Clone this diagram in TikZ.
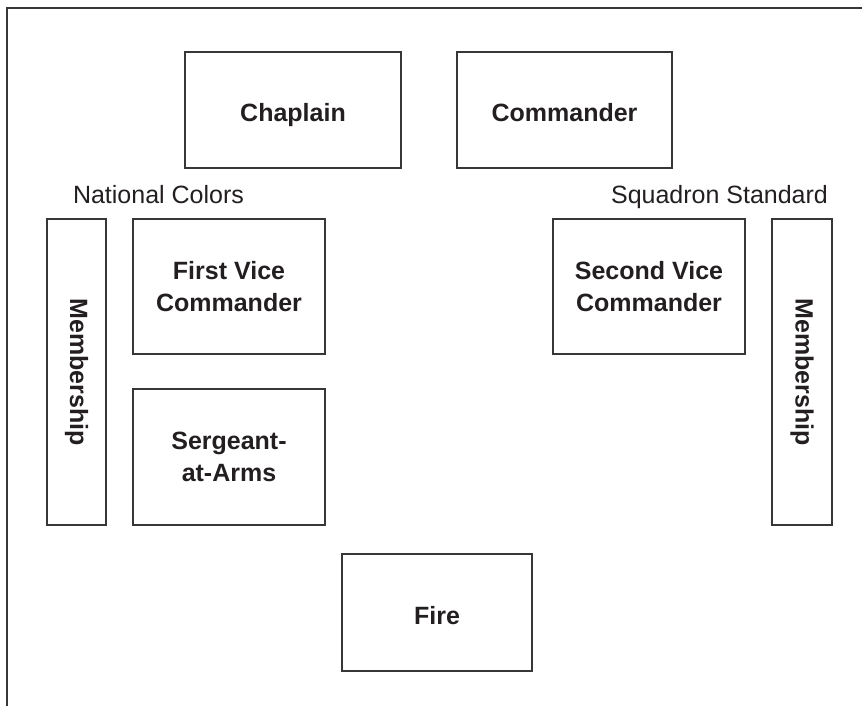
\documentclass[tikz,border=0pt]{standalone}
\usepackage{fontspec}
\setmainfont{Liberation Sans}
\usetikzlibrary{positioning}
\definecolor{ink}{RGB}{35,31,32}
\definecolor{rule}{RGB}{55,55,55}
\tikzset{
  seat/.style={draw=rule,line width=1.3pt,align=center,text=ink,
    font=\fontsize{25}{32}\selectfont\bfseries,inner sep=0pt},
  oneline/.style={text height=23pt,text depth=0pt},
  flag/.style={text=ink,font=\fontsize{25}{32}\selectfont,anchor=base,inner sep=0pt},
}
\begin{document}
\begin{tikzpicture}[x=1pt,y=-1pt]
  \useasboundingbox (0,0) rectangle (862,705);
  % frame
  \draw[rule,line width=2pt] (7,706) -- (7,8) -- (863,8);
  % head table
  \node[seat,oneline,minimum width=216,minimum height=116] (chaplain) at (293,110) {Chaplain};
  \node[seat,oneline,minimum width=215,minimum height=116] (commander) at (564.5,110) {Commander};
  % colors
  \node[flag] (natcolors) at (158.5,203) {National Colors};
  \node[flag] (sqstandard) at (719.5,203) {Squadron Standard};
  % side stations
  \node[seat,minimum width=192,minimum height=135] (firstvice) at (229,286.5) {First Vice\\Commander};
  \node[seat,minimum width=192,minimum height=136] (sergeant) at (229,457) {Sergeant-\\at-Arms};
  \node[seat,minimum width=192,minimum height=135] (secondvice) at (649,286.5) {Second Vice\\Commander};
  \node[seat,rotate=-90,minimum width=306,minimum height=59] (memberleft) at (76.5,372) {Membership};
  \node[seat,rotate=-90,minimum width=306,minimum height=60] (memberright) at (802,372) {Membership};
  % fire
  \node[seat,oneline,minimum width=190,minimum height=117] (fire) at (437,612.5) {Fire};
\end{tikzpicture}
\end{document}
